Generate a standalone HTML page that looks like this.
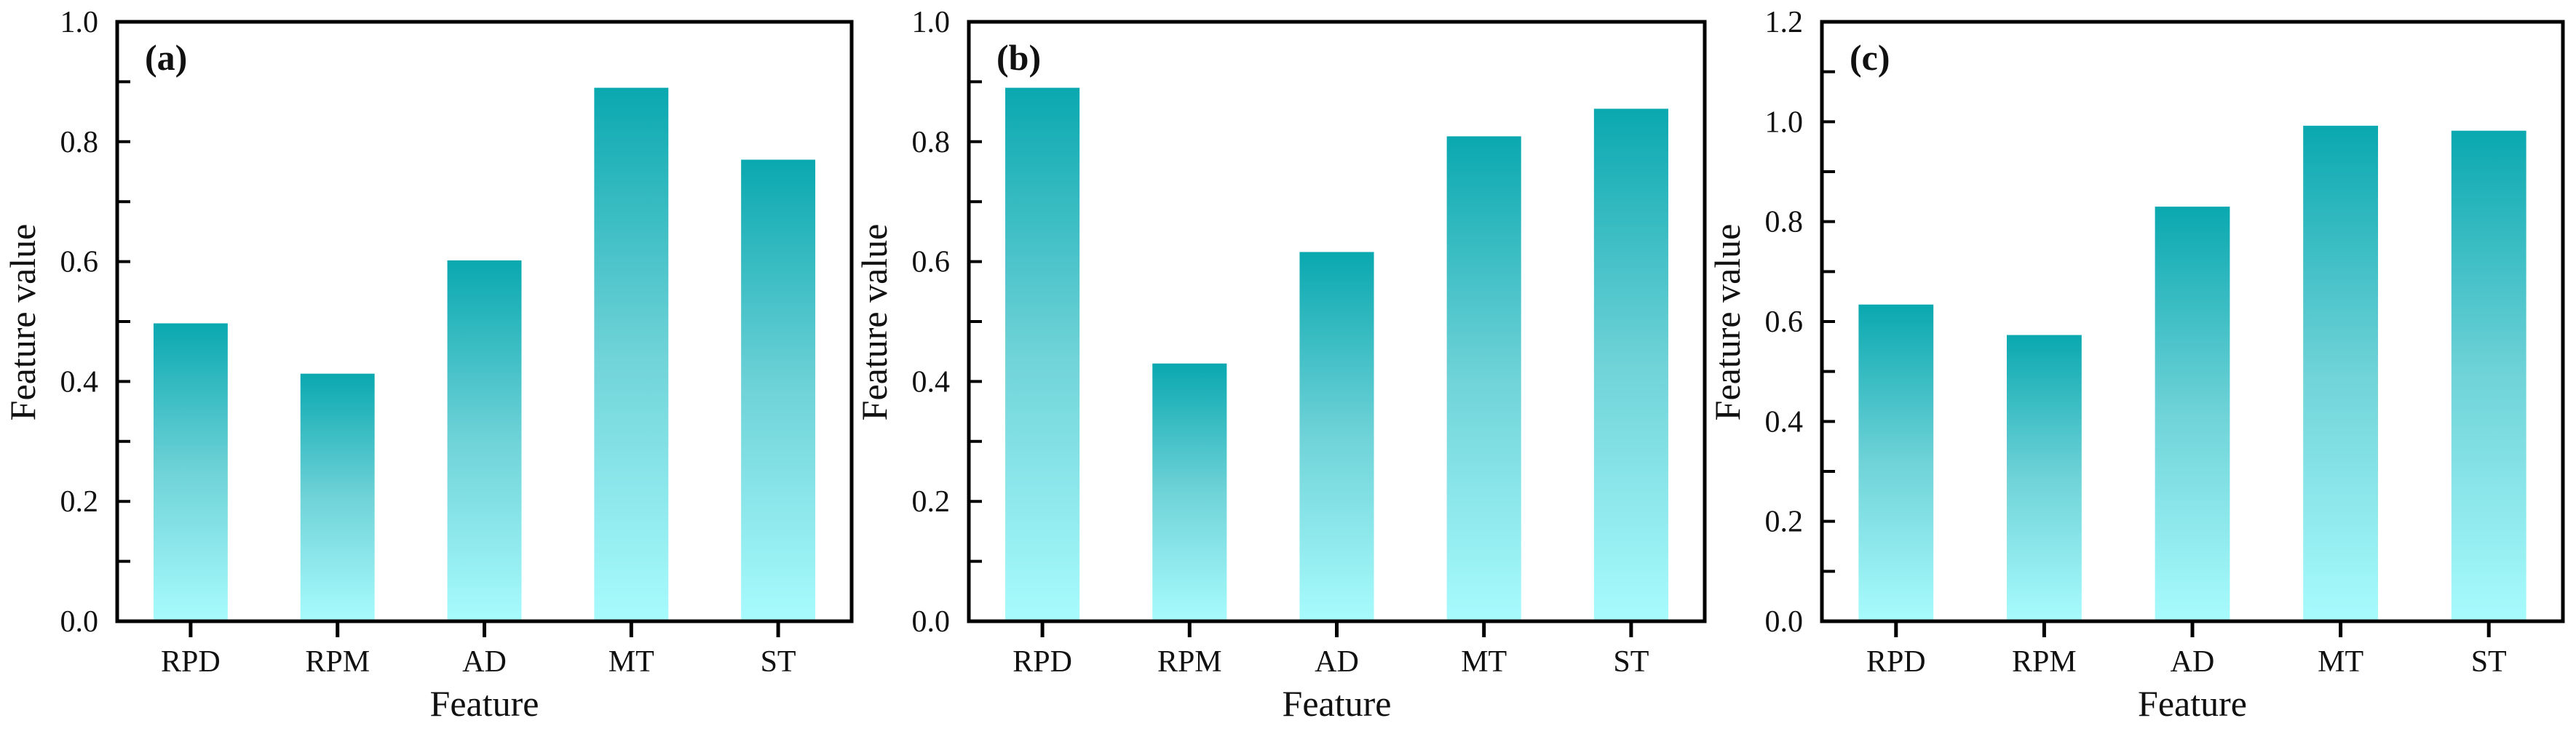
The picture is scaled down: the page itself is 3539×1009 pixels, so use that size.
<!DOCTYPE html>
<html><head><meta charset="utf-8"><style>
html,body{margin:0;padding:0;background:#fff;}
svg{display:block;font-family:"Liberation Serif",serif;}
</style></head><body>
<svg id="fig" width="3539" height="1009" viewBox="0 0 3539 1009" xmlns="http://www.w3.org/2000/svg">
<defs>
<linearGradient id="grad" x1="0" y1="0" x2="0" y2="1">
<stop offset="0" stop-color="#0aa8b0"/>
<stop offset="0.5" stop-color="#6fd3d8"/>
<stop offset="1" stop-color="#a8fbfd"/>
</linearGradient>
</defs>
</svg>
<script>
const categories = ["RPD","RPM","AD","MT","ST"];
const valuesA = [0.497,0.413,0.602,0.890,0.770];
const valuesB = [0.890,0.430,0.616,0.809,0.855];
const valuesC = [0.634,0.573,0.830,0.992,0.982];
const ticksAB = ["0.0","0.2","0.4","0.6","0.8","1.0"];
const ticksC = ["0.0","0.2","0.4","0.6","0.8","1.0","1.2"];
const panelLabels = ["(a)","(b)","(c)"];

const NS = "http://www.w3.org/2000/svg";
const svg = document.getElementById('fig');
function mk(tag, attrs, parent){
  const e = document.createElementNS(NS, tag);
  for (const k in attrs) e.setAttribute(k, attrs[k]);
  (parent||svg).appendChild(e);
  return e;
}
const panels = [
  {x0:161, x1:1170, vals:valuesA, ticks:ticksAB, ymax:1.0, label:panelLabels[0], key:'a'},
  {x0:1331, x1:2342, vals:valuesB, ticks:ticksAB, ymax:1.0, label:panelLabels[1], key:'b'},
  {x0:2503, x1:3521, vals:valuesC, ticks:ticksC, ymax:1.2, label:panelLabels[2], key:'c'}
];
const yTop = 30, yBot = 854;
panels.forEach(p => {
  const g = mk('g', {});
  
  
  const yS = v => yBot - (v / p.ymax) * (yBot - yTop);
  const step = (p.x1 - p.x0) / categories.length;
  const xS = i => p.x0 + step * (i + 0.5);
  const bw = step * 0.505;
  // bars
  p.vals.forEach((v, i) => {
    const r = mk('rect', {x: xS(i) - bw/2, y: yS(v), width: bw, height: yBot - yS(v), fill: 'url(#grad)'}, g);
    
    
  });
  // y ticks (major + minor, inward)
  const nMaj = p.ticks.length - 1;
  for (let k = 0; k <= nMaj * 2; k++) {
    const v = p.ymax * k / (nMaj * 2);
    const y = yS(v);
    if (k > 0 && k < nMaj * 2) mk('line', {x1: p.x0, x2: p.x0 + 18, y1: y, y2: y, stroke: '#000', 'stroke-width': 4}, g);
  }
  p.ticks.forEach((t, k) => {
    const y = yS(p.ymax * k / nMaj);
    const tx = mk('text', {x: p.x0 - 26, y: y + 14, 'font-size': 42, 'text-anchor': 'end', fill: '#111'}, g);
    tx.textContent = t;
    
    
  });
  // x ticks & labels
  categories.forEach((c, i) => {
    mk('line', {x1: xS(i), x2: xS(i), y1: yBot, y2: yBot + 22, stroke: '#000', 'stroke-width': 5}, g);
    const tx = mk('text', {x: xS(i), y: 923, 'font-size': 42, 'text-anchor': 'middle', fill: '#111'}, g);
    tx.textContent = c;
    
    
  });
  // frame
  const fr = mk('rect', {x: p.x0, y: yTop, width: p.x1 - p.x0, height: yBot - yTop, fill: 'none', stroke: '#000', 'stroke-width': 5}, g);
  
  
  // titles
  const xt = mk('text', {x: (p.x0 + p.x1) / 2, y: 984, 'font-size': 50, 'text-anchor': 'middle', fill: '#111'}, g);
  xt.textContent = 'Feature';
  
  
  const yx = p.x0 - 113, yy = 443;
  const yt = mk('text', {x: yx, y: yy, 'font-size': 50, 'text-anchor': 'middle', fill: '#111', transform: 'rotate(-90 ' + yx + ' ' + yy + ')'}, g);
  yt.textContent = 'Feature value';
  
  
  const pl = mk('text', {x: p.x0 + 38, y: 96, 'font-size': 50, 'font-weight': 'bold', fill: '#111'}, g);
  pl.textContent = p.label;
  
  
});
</script>
</body></html>
